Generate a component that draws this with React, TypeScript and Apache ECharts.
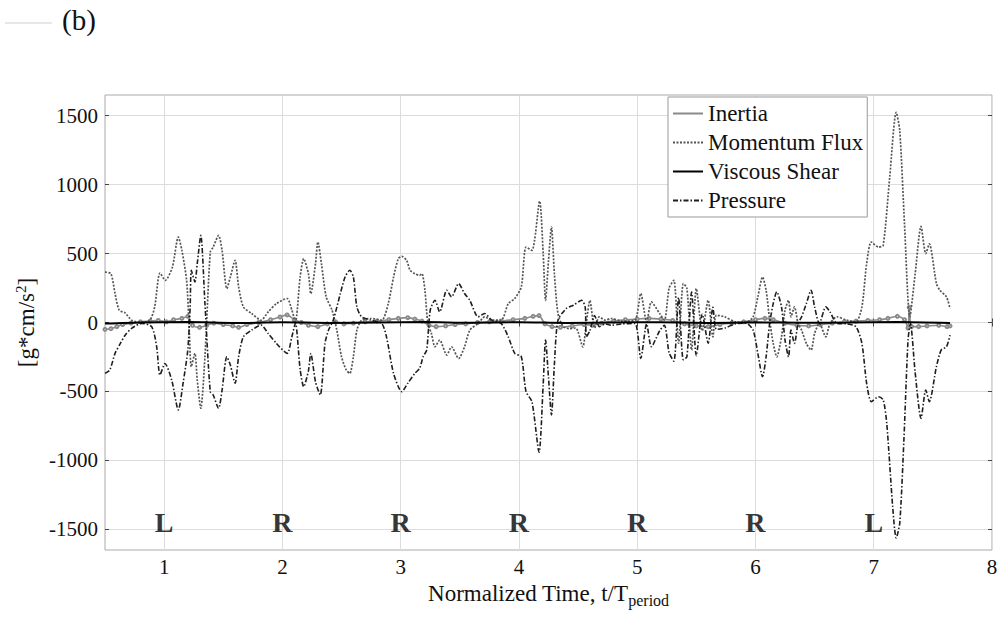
import React, { useEffect, useRef } from 'react';
import * as echarts from 'echarts';

const FONT = 'Liberation Serif';

const xTicks = [1, 2, 3, 4, 5, 6, 7, 8];
const yTicks = [-1500, -1000, -500, 0, 500, 1000, 1500];
const seriesNames = ['Inertia', 'Momentum Flux', 'Viscous Shear', 'Pressure'];
const stepTimes = [1, 2, 3, 4, 5, 6, 7];
const stepLabels = ['L', 'R', 'R', 'R', 'R', 'R', 'L'];
const stepLabelLevel = -1450;

const inertia: [number, number][] = [
  [0.5, -50], [0.55, -45], [0.6, -30], [0.65, -15], [0.72, -5], [0.8, 5], [0.88, 10], [0.95, 15],
  [1.02, 5], [1.08, 20], [1.15, 30], [1.2, 45], [1.24, -20], [1.3, -35], [1.36, -20], [1.42, -5],
  [1.5, -15], [1.58, -25], [1.63, -35], [1.7, -15], [1.8, 0], [1.9, 20], [1.98, 40], [2.04, 55],
  [2.1, 20], [2.16, 0], [2.22, -20], [2.3, -30], [2.38, -10], [2.45, 5], [2.52, -10], [2.6, -5],
  [2.7, 5], [2.8, 10], [2.9, 20], [2.98, 30], [3.06, 35], [3.12, 25], [3.18, 10], [3.24, -20],
  [3.3, -30], [3.38, -25], [3.46, -15], [3.55, -10], [3.65, 0], [3.75, 5], [3.85, 10], [3.95, 20],
  [4.05, 30], [4.12, 45], [4.17, 50], [4.22, -10], [4.28, -30], [4.35, -35], [4.45, -25], [4.55, -15],
  [4.62, -20], [4.7, -5], [4.8, 10], [4.9, 20], [5.0, 25], [5.1, 30], [5.2, 25], [5.3, 15],
  [5.4, -10], [5.5, -25], [5.6, -30], [5.7, -15], [5.8, -5], [5.9, 5], [6.0, 20], [6.08, 30],
  [6.15, 20], [6.25, -5], [6.35, -20], [6.45, -25], [6.55, -15], [6.65, -5], [6.75, 5], [6.85, 10],
  [6.95, 15], [7.05, 20], [7.12, 30], [7.2, 45], [7.26, 20], [7.29, -40], [7.3, 110], [7.32, -30],
  [7.38, -30], [7.45, -25], [7.55, -20], [7.62, -30], [7.645, -25],
];

const momentumFlux: [number, number][] = [
  [0.5, 366], [0.55, 354], [0.585, 210], [0.62, 89], [0.67, 70], [0.725, 17], [0.81, 0], [0.88, 17],
  [0.92, 113], [0.965, 359], [1.01, 306], [1.07, 403], [1.12, 620], [1.15, 523], [1.19, 306], [1.21, -7],
  [1.23, -321], [1.26, -224], [1.28, -417], [1.31, -622], [1.345, -248], [1.39, 511], [1.415, 547], [1.46, 632],
  [1.49, 523], [1.53, 246], [1.56, 330], [1.6, 451], [1.63, 258], [1.67, 113], [1.74, 65], [1.82, 17],
  [1.88, 77], [1.95, 137], [2.04, 174], [2.08, 89], [2.11, 5], [2.15, 330], [2.18, 463], [2.22, 354],
  [2.24, 209], [2.28, 427], [2.3, 584], [2.33, 427], [2.37, 186], [2.42, 89], [2.46, -55], [2.5, -248],
  [2.54, -345], [2.57, -369], [2.6, -248], [2.63, -55], [2.67, 17], [2.75, 29], [2.84, 17], [2.895, 137],
  [2.94, 330], [2.98, 463], [3.01, 480], [3.05, 451], [3.08, 379], [3.12, 354], [3.16, 342], [3.18, 354],
  [3.205, 234], [3.23, -7], [3.26, -80], [3.29, -176], [3.33, -128], [3.39, -236], [3.43, -176], [3.49, -261],
  [3.54, -176], [3.585, -55], [3.655, -7], [3.71, 41], [3.77, 17], [3.85, 17], [3.91, 137], [3.965, 174],
  [4.02, 258], [4.06, 547], [4.11, 523], [4.175, 880], [4.205, 500], [4.225, 161], [4.25, 450], [4.275, 692],
  [4.3, 350], [4.33, 65], [4.375, -30], [4.43, -45], [4.48, -40], [4.54, -177], [4.57, 0], [4.6, 160],
  [4.64, -40], [4.68, 41], [4.73, 17], [4.78, 29], [4.87, 10], [4.98, 16], [5.03, 210], [5.08, 5],
  [5.12, 149], [5.19, 65], [5.23, 17], [5.27, 250], [5.31, 306], [5.35, -150], [5.39, 282], [5.42, 250],
  [5.46, -200], [5.5, 246], [5.55, -60], [5.6, 161], [5.64, -104], [5.67, 53], [5.74, 41], [5.83, 5],
  [5.92, 0], [5.98, 41], [6.02, 186], [6.06, 330], [6.09, 234], [6.12, 17], [6.15, -152], [6.18, -249],
  [6.22, -104], [6.25, 89], [6.28, 161], [6.3, 41], [6.33, 113], [6.36, -7], [6.39, -55], [6.43, -152],
  [6.47, -200], [6.5, -80], [6.54, -7], [6.595, -104], [6.63, -7], [6.69, 41], [6.77, 17], [6.85, 5],
  [6.9, 113], [6.94, 427], [6.98, 584], [7.04, 547], [7.08, 560], [7.135, 1054], [7.19, 1524], [7.22, 1392],
  [7.26, 716], [7.305, 41], [7.35, 350], [7.4, 697], [7.44, 499], [7.47, 571], [7.53, 282], [7.56, 234],
  [7.615, 186], [7.645, 101],
];

const viscousShear: [number, number][] = [
  [0.5, -8], [0.8, 0], [1.2, 3], [1.6, -4], [2.0, 2], [2.4, -3], [2.8, 0], [3.2, 3], [3.6, -2], [4.0, 2],
  [4.4, -3], [4.8, 0], [5.2, 2], [5.6, -3], [6.0, 1], [6.4, -2], [6.8, 0], [7.2, 4], [7.645, -3],
];

const pressure: [number, number][] = [
  [0.5, -369], [0.54, -345], [0.585, -224], [0.63, -152], [0.67, -92], [0.725, -43], [0.81, -7], [0.895, -31],
  [0.937, -176], [0.965, -381], [1.007, -297], [1.064, -417], [1.12, -634], [1.16, -441], [1.2, -200], [1.22, 113],
  [1.23, 378], [1.26, 294], [1.28, 427], [1.31, 632], [1.345, 137], [1.39, -502], [1.415, -526], [1.46, -622],
  [1.49, -490], [1.53, -248], [1.56, -309], [1.6, -441], [1.63, -248], [1.67, -104], [1.74, -55], [1.82, -19],
  [1.88, -80], [1.95, -152], [2.04, -224], [2.08, -104], [2.11, -5], [2.15, -340], [2.18, -466], [2.22, -350],
  [2.24, -225], [2.28, -430], [2.32, -526], [2.36, -152], [2.39, -55], [2.43, 17], [2.49, 210], [2.53, 330],
  [2.57, 379], [2.6, 330], [2.63, 113], [2.67, 41], [2.75, 17], [2.84, -7], [2.88, -104], [2.94, -369],
  [3.01, -502], [3.06, -441], [3.12, -369], [3.16, -333], [3.19, -248], [3.22, -200], [3.25, 89], [3.29, 161],
  [3.33, 77], [3.39, 234], [3.43, 186], [3.49, 282], [3.54, 210], [3.585, 161], [3.655, 41], [3.71, 65],
  [3.77, 17], [3.85, -7], [3.91, -104], [3.965, -224], [4.02, -248], [4.06, -502], [4.11, -574], [4.17, -940],
  [4.205, -450], [4.225, -128], [4.25, -400], [4.275, -671], [4.3, -300], [4.33, 16], [4.4, 101], [4.46, 125],
  [4.53, 161], [4.56, 113], [4.57, -104], [4.6, -60], [4.64, 50], [4.68, -30], [4.73, -10], [4.78, -20],
  [4.87, -10], [4.98, -7], [5.03, -260], [5.08, -10], [5.12, -176], [5.19, -60], [5.23, -20], [5.27, -220],
  [5.31, -280], [5.35, 180], [5.39, -270], [5.42, -250], [5.46, 220], [5.5, -240], [5.55, 60], [5.6, -150],
  [5.64, 110], [5.67, -50], [5.74, -40], [5.83, -10], [5.92, -5], [5.98, -55], [6.02, -224], [6.06, -393],
  [6.09, -248], [6.12, -7], [6.15, 137], [6.18, 222], [6.22, 113], [6.25, -128], [6.28, -249], [6.3, -55],
  [6.33, -152], [6.36, -7], [6.39, 41], [6.43, 137], [6.47, 234], [6.5, 113], [6.54, -7], [6.595, 113],
  [6.63, 77], [6.69, -7], [6.77, -10], [6.85, -31], [6.9, -152], [6.94, -441], [6.98, -574], [7.04, -538],
  [7.08, -562], [7.11, -731], [7.16, -1334], [7.19, -1563], [7.22, -1455], [7.255, -852], [7.29, -128], [7.31, -7],
  [7.35, -360], [7.4, -695], [7.44, -490], [7.47, -574], [7.53, -321], [7.57, -200], [7.615, -176], [7.645, -92],
];

export default function App() {
  const ref = useRef<HTMLDivElement>(null);
  useEffect(() => {
    if (!ref.current) return;
    const chart = echarts.init(ref.current, undefined, { renderer: 'svg' });
    const tickStyle = { show: true, inside: true, length: 4, lineStyle: { color: '#444', width: 1 } };
    const plain = (v: number) => String(v);
    const lineSmooth = 0.25;
    const serifText = { fontFamily: FONT, fontStyle: 'normal', fontWeight: 'normal', color: '#111' };
    const option: any = {
      animation: false,
      backgroundColor: '#fff',
      textStyle: { fontFamily: FONT },
      grid: { left: 105, right: 10, top: 95, bottom: 67, show: true, borderColor: '#aaa', borderWidth: 1, backgroundColor: 'transparent' },
      graphic: [
        { type: 'line', shape: { x1: 5, y1: 23, x2: 52, y2: 23 }, style: { stroke: '#cfcfcf', lineWidth: 1 } },
        { type: 'text', left: 62, top: 5, style: { text: '(b)', font: `29px ${FONT}`, fill: '#111' } },
      ],
      legend: {
        data: seriesNames,
        orient: 'vertical',
        left: 668,
        top: 97,
        itemWidth: 30,
        itemHeight: 22,
        itemGap: 6,
        padding: [5, 4, 5, 4],
        borderColor: '#999',
        borderWidth: 1,
        backgroundColor: '#fff',
        itemStyle: { opacity: 0 },
        formatter: '{n|{name}}',
        textStyle: {
          ...serifText, fontSize: 23,
          rich: { n: { ...serifText, fontSize: 23 } },
        },
      },
      xAxis: [
        {
          type: 'value', min: 0.5, max: 8,
          axisLine: { show: false },
          axisTick: { ...tickStyle, customValues: xTicks },
          axisLabel: { customValues: xTicks, formatter: plain, fontFamily: FONT, fontSize: 21, color: '#111', margin: 6 },
          splitLine: { show: true, lineStyle: { color: '#dcdcdc', width: 1 } },
          name: '{m|Normalized Time, t/T}{sub|period}',
          nameLocation: 'middle',
          nameGap: 21,
          nameTextStyle: {
            ...serifText, fontSize: 23,
            rich: {
              m: { ...serifText, fontSize: 23 },
              sub: { ...serifText, fontSize: 16, padding: [15, 0, 0, 0] },
            },
          },
        },
        {
          type: 'value', min: 0.5, max: 8, position: 'top',
          axisLine: { show: false },
          axisTick: { ...tickStyle, customValues: xTicks },
          axisLabel: { show: false, customValues: xTicks },
          splitLine: { show: false },
        },
      ],
      yAxis: [
        {
          type: 'value', min: -1650, max: 1650,
          axisLine: { show: false },
          axisTick: { ...tickStyle, customValues: yTicks },
          axisLabel: { customValues: yTicks, formatter: plain, fontFamily: FONT, fontSize: 21, color: '#111', margin: 7 },
          splitLine: { show: true, lineStyle: { color: '#dcdcdc', width: 1 } },
          name: '{m|[g*cm/s}{sup|2}{m|]}',
          nameLocation: 'middle',
          nameGap: 56,
          nameTextStyle: {
            ...serifText, fontSize: 23,
            rich: {
              m: { ...serifText, fontSize: 23 },
              sup: { ...serifText, fontSize: 15, padding: [0, 0, 11, 0] },
            },
          },
        },
        {
          type: 'value', min: -1650, max: 1650, position: 'right',
          axisLine: { show: false },
          axisTick: { ...tickStyle, customValues: yTicks },
          axisLabel: { show: false, customValues: yTicks },
          splitLine: { show: false },
        },
      ],
      series: [
        {
          name: 'Inertia', type: 'line', data: inertia, z: 3, smooth: lineSmooth,
          symbol: 'emptyCircle', symbolSize: 3, showSymbol: true,
          lineStyle: { color: '#8a8a8a', width: 1.6 },
          itemStyle: { color: '#8a8a8a', borderWidth: 1 },
        },
        {
          name: 'Momentum Flux', type: 'line', data: momentumFlux, z: 4, smooth: lineSmooth,
          symbol: 'none', showSymbol: false,
          lineStyle: { color: '#555', width: 1.7, type: [2, 1.5] },
          itemStyle: { color: '#555' },
        },
        {
          name: 'Viscous Shear', type: 'line', data: viscousShear, z: 6, smooth: lineSmooth,
          symbol: 'none', showSymbol: false,
          lineStyle: { color: '#000', width: 2 },
          itemStyle: { color: '#000' },
        },
        {
          name: 'Pressure', type: 'line', data: pressure, z: 5, smooth: lineSmooth,
          symbol: 'none', showSymbol: false,
          lineStyle: { color: '#1e1e1e', width: 1.6, type: [5, 2, 1.5, 2] },
          itemStyle: { color: '#1e1e1e' },
        },
        {
          name: 'steps', type: 'scatter', z: 7,
          data: stepTimes.map((t, i) => ({ value: [t, stepLabelLevel], name: stepLabels[i] })),
          symbolSize: 0,
          label: {
            show: true, position: 'inside', formatter: (p: any) => p.name,
            fontFamily: FONT, fontSize: 28, fontWeight: 'bold', color: '#000',
          },
          silent: true,
        },
      ],
    };
    chart.setOption(option);
    return () => chart.dispose();
  }, []);
  return (
    <div
      ref={ref}
      style={{ position: 'fixed', left: 0, top: 0, width: 1002, height: 617, background: '#fff' }}
    />
  );
}
